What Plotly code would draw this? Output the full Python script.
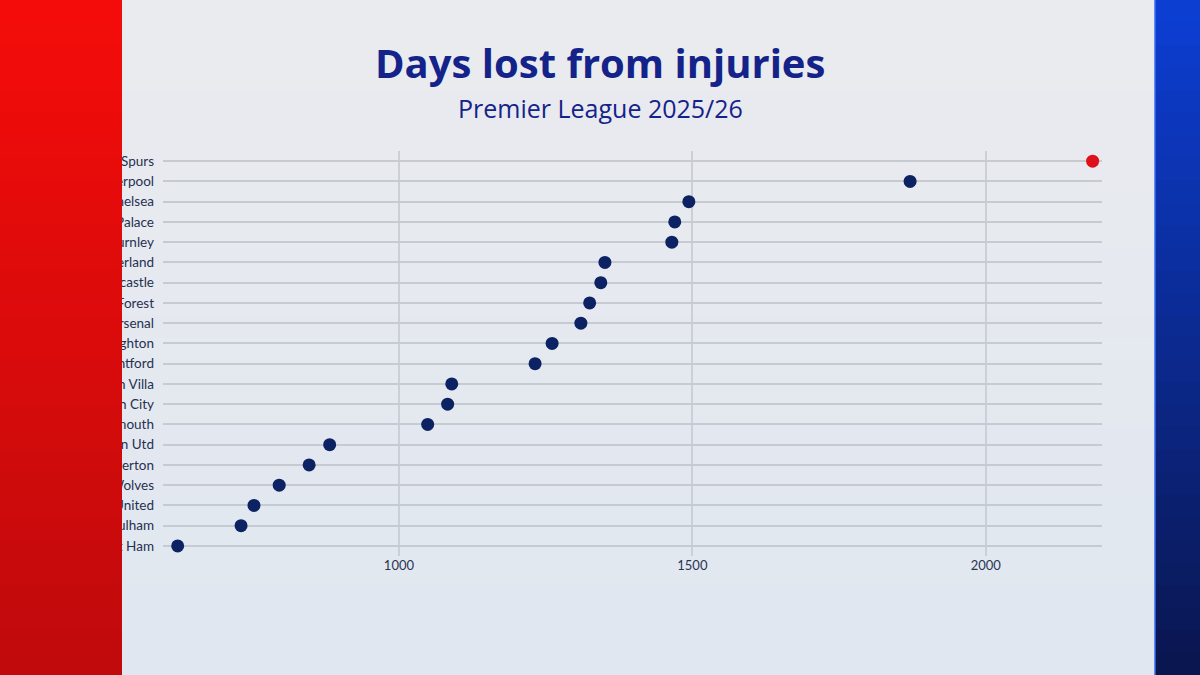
import plotly.graph_objects as go

teams = ["Spurs", "Liverpool", "Chelsea", "Crystal Palace", "Burnley", "Sunderland",
         "Newcastle", "Nottingham Forest", "Arsenal", "Brighton", "Brentford", "Aston Villa",
         "Man City", "Bournemouth", "Man Utd", "Everton", "Wolves", "Leeds United",
         "Fulham", "West Ham"]
days_lost = [2182, 1871, 1494, 1470, 1465, 1351, 1344, 1325, 1310, 1261, 1232, 1090,
             1083, 1049, 882, 847, 796, 753, 731, 623]
x_ticks = [1000, 1500, 2000]

W, H = 1200, 675
L, R, T, B = 163, 98, 151, 119
PW, PH = W - L - R, H - T - B

def px(x):
    return (x - L) / PW

def py(y):
    return 1 - (y - T) / PH

def lerp(c1, c2, t):
    return "rgb(%d,%d,%d)" % tuple(round(a + (b - a) * t) for a, b in zip(c1, c2))

colors = ["#e0101a" if i == 0 else "#0c2263" for i in range(len(teams))]

fig = go.Figure()
fig.add_trace(go.Scatter(
    x=days_lost, y=teams, mode="markers",
    marker=dict(size=13, color=colors, line=dict(width=0)),
    hoverinfo="x+y", showlegend=False, cliponaxis=False,
))

shapes = []
n = 30
for i in range(n):
    y0 = H * i / n
    y1 = H * (i + 1) / n + 1
    shapes.append(dict(type="rect", xref="paper", yref="paper", layer="below",
                       x0=px(0), x1=px(W), y0=py(y1), y1=py(y0),
                       fillcolor=lerp((234, 235, 239), (224, 231, 240), i / (n - 1)),
                       line=dict(width=0)))
for i in range(n):
    y0 = H * i / n
    y1 = H * (i + 1) / n + 1
    shapes.append(dict(type="rect", xref="paper", yref="paper", layer="above",
                       x0=px(0), x1=px(122), y0=py(y1), y1=py(y0),
                       fillcolor=lerp((244, 12, 10), (192, 10, 12), i / (n - 1)),
                       line=dict(width=0)))
for i in range(n):
    y0 = H * i / n
    y1 = H * (i + 1) / n + 1
    shapes.append(dict(type="rect", xref="paper", yref="paper", layer="above",
                       x0=px(1155), x1=px(W), y0=py(y1), y1=py(y0),
                       fillcolor=lerp((12, 62, 210), (10, 22, 80), i / (n - 1)),
                       line=dict(width=0)))
shapes.append(dict(type="line", xref="paper", yref="paper", layer="above",
                   x0=px(1155), x1=px(1155), y0=py(0), y1=py(H),
                   line=dict(color="#3a6cf0", width=1.5)))

fig.update_layout(
    width=W, height=H,
    margin=dict(l=L, r=R, t=T, b=B, pad=0),
    paper_bgcolor="#e6e9ef",
    plot_bgcolor="rgba(0,0,0,0)",
    font=dict(family="Lato, sans-serif", color="#263050"),
    shapes=shapes,
    xaxis=dict(range=[598, 2198], tickvals=x_ticks, showgrid=True,
               gridcolor="#cbcfd6", gridwidth=1.5, zeroline=False, showline=False,
               ticks="", tickfont=dict(size=13, color="#2a3552"), fixedrange=True),
    yaxis=dict(categoryorder="array", categoryarray=teams,
               range=[len(teams) - 0.5, -0.5],
               showgrid=True, gridcolor="#c6cad1", gridwidth=2, zeroline=False,
               showline=False, ticks="", ticklabelstandoff=8,
               tickfont=dict(size=13.5, color="#263050"), fixedrange=True),
    annotations=[
        dict(text="<b>Days lost from injuries</b>", xref="paper", yref="paper",
             x=px(600), y=py(62), xanchor="center", yanchor="middle", showarrow=False,
             font=dict(size=40, color="#14238a", family="Open Sans, sans-serif")),
        dict(text="Premier League 2025/26", xref="paper", yref="paper",
             x=px(600), y=py(108), xanchor="center", yanchor="middle", showarrow=False,
             font=dict(size=25, color="#14238a", family="Open Sans, sans-serif")),
    ],
)

fig.write_html("out.html")
